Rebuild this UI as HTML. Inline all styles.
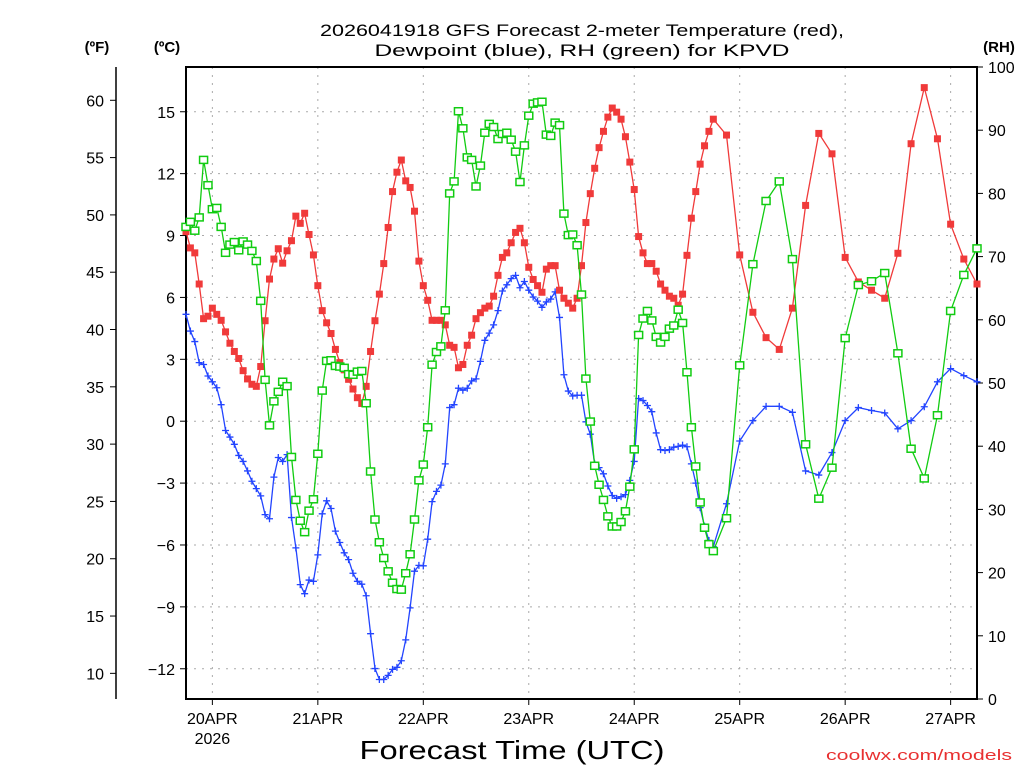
<!DOCTYPE html>
<html><head><meta charset="utf-8"><style>
html,body{margin:0;padding:0;background:#fff;width:1024px;height:768px;overflow:hidden}
svg{display:block}
text{font-family:"Liberation Sans",sans-serif}
</style></head><body>
<svg id="chart" width="1024" height="768" viewBox="0 0 1024 768" xmlns="http://www.w3.org/2000/svg">
<text x="582" y="36" font-size="17" text-anchor="middle" textLength="524" lengthAdjust="spacingAndGlyphs">2026041918 GFS Forecast 2-meter Temperature (red),</text>
<text x="582" y="56" font-size="17" text-anchor="middle" textLength="415" lengthAdjust="spacingAndGlyphs">Dewpoint (blue), RH (green) for KPVD</text>
<text x="97" y="52" font-size="15" font-weight="bold" text-anchor="middle">(ºF)</text>
<text x="167" y="52" font-size="15" font-weight="bold" text-anchor="middle">(ºC)</text>
<text x="999" y="52" font-size="15" font-weight="bold" text-anchor="middle">(RH)</text>
<text x="512" y="759" font-size="26" text-anchor="middle" textLength="305" lengthAdjust="spacingAndGlyphs">Forecast Time (UTC)</text>
<text x="1012" y="760" font-size="15" fill="#e83030" text-anchor="end" textLength="186" lengthAdjust="spacingAndGlyphs">coolwx.com/models</text>
<g id="grid"></g><g id="axes"></g><g id="series"></g>
</svg>
<script>
// hours since 2026-04-19 18Z
const hours = [];
for (let h = 0; h <= 120; h++) hours.push(h);
for (let h = 123; h <= 180; h += 3) hours.push(h);

const tempC = [9.19,8.40,8.16,6.65,4.97,5.09,5.48,5.18,4.89,4.33,3.78,3.38,3.04,2.45,2.05,1.79,1.69,2.65,4.87,6.89,
7.86,8.36,7.66,8.26,8.75,9.94,9.59,10.08,9.05,8.06,6.57,5.36,4.77,4.25,3.48,2.84,2.49,2.03,1.56,1.14,
0.86,1.69,3.38,4.87,6.16,7.64,9.39,11.13,12.07,12.66,11.65,11.33,10.18,7.76,6.57,5.86,4.89,4.89,4.89,4.67,
3.68,3.58,2.59,2.75,3.68,4.17,4.97,5.26,5.48,5.58,6.06,7.07,7.94,8.16,8.65,9.15,9.35,8.65,7.46,6.87,
6.57,6.25,7.37,7.54,7.54,6.35,5.96,5.72,5.48,5.96,7.54,9.63,11.03,12.26,13.26,14.05,14.74,15.18,14.98,14.64,
13.79,12.56,11.23,8.95,8.16,7.64,7.64,7.27,6.65,6.35,6.06,5.96,5.62,6.16,8.04,9.84,11.13,12.46,13.35,14.05,
14.64,13.87,8.06,5.28,4.05,3.48,5.48,10.46,13.95,12.96,7.94,6.75,6.35,5.96,8.14,13.45,16.17,13.69,9.55,7.86,6.65];

const dewC = [5.18,4.37,3.86,2.84,2.75,2.19,1.91,1.62,0.80,-0.45,-0.77,-1.12,-1.66,-1.95,-2.41,-2.91,-3.27,-3.62,-4.53,-4.73,
-2.71,-1.76,-1.95,-1.62,-4.67,-6.14,-7.92,-8.36,-7.70,-7.76,-6.48,-4.49,-3.86,-4.23,-5.33,-5.88,-6.38,-6.71,-7.37,-7.76,
-7.90,-8.46,-10.30,-11.99,-12.52,-12.52,-12.32,-12.03,-11.93,-11.61,-10.60,-9.05,-7.27,-6.99,-7.01,-5.72,-3.90,-3.40,-3.10,-2.07,
0.66,0.80,1.60,1.50,1.60,1.95,2.05,2.90,3.92,4.27,4.67,5.36,6.31,6.61,6.91,7.07,6.47,6.77,6.35,6.02,
5.82,5.52,5.78,5.92,6.27,5.03,2.25,1.46,1.22,1.26,1.26,-0.03,-0.63,-2.07,-2.25,-2.55,-3.14,-3.60,-3.74,-3.66,
-3.56,-2.87,-1.95,1.10,1.00,0.76,0.46,-0.57,-1.38,-1.42,-1.38,-1.26,-1.22,-1.16,-1.24,-2.07,-3.00,-4.19,-5.09,-5.78,
-6.08,-4.00,-0.96,0.03,0.72,0.72,0.43,-2.41,-2.61,-1.52,0.03,0.66,0.52,0.40,-0.37,0.03,0.70,1.91,2.55,2.21,1.91];

const rhPct = [74.7,75.5,74.1,76.2,85.3,81.3,77.5,77.7,74.7,70.6,71.9,72.3,71.0,72.4,71.9,70.9,69.3,63.0,50.5,43.3,
47.1,48.6,50.2,49.5,38.3,31.5,28.2,26.4,29.8,31.6,38.8,48.8,53.5,53.6,52.7,52.6,52.4,51.4,51.3,51.8,
51.9,46.8,36.0,28.4,24.8,22.3,20.2,18.4,17.4,17.3,19.9,22.9,28.4,34.6,37.1,43.0,52.9,54.9,55.8,61.5,
80.0,81.9,93.0,90.3,85.7,85.3,81.1,84.4,89.6,91.0,90.5,88.6,89.4,89.6,88.5,86.6,81.8,87.6,92.3,94.2,
94.4,94.5,89.3,89.1,91.2,90.8,76.8,73.4,73.5,71.8,64.0,50.7,43.9,36.9,33.9,31.5,28.9,27.3,27.3,28.0,
29.7,33.6,39.5,57.6,60.2,61.4,59.9,57.3,56.4,57.3,58.6,59.1,61.6,59.5,51.7,43.0,36.8,31.1,27.1,24.5,
23.4,28.6,52.8,68.8,78.8,81.9,69.6,40.3,31.7,36.6,57.1,65.5,66.1,67.4,54.7,39.6,34.9,44.9,61.4,67.1,71.3];

const dayLabels = ["20APR","21APR","22APR","23APR","24APR","25APR","26APR","27APR"];
const dayHours = [6,30,54,78,102,126,150,174];
const cTicks = [-12,-9,-6,-3,0,3,6,9,12,15];
const fTicks = [10,15,20,25,30,35,40,45,50,55,60];
const rhTicks = [0,10,20,30,40,50,60,70,80,90,100];

const L=186, R=977, T=67, B=699;
const xS = h => L + h*(R-L)/180;
const yC = c => 421.2 - c*20.63;
const yF = f => yC((f-32)*5/9);
const yRH = r => B - r*(B-T)/100;
const NS = "http://www.w3.org/2000/svg";
function mk(tag, attrs, parent){const e=document.createElementNS(NS,tag);for(const k in attrs)e.setAttribute(k,attrs[k]);parent.appendChild(e);return e;}
const grid=document.getElementById('grid'), axes=document.getElementById('axes'), ser=document.getElementById('series');

cTicks.forEach(c=>{
  const y=yC(c);
  const g=mk('line',{x1:L,x2:R,y1:y,y2:y,stroke:'#aaa','stroke-width':1,'stroke-dasharray':'2,6'},grid);
  
  
  const t=mk('line',{x1:L-6,x2:L,y1:y,y2:y,stroke:'#000','stroke-width':1},axes);
  
  
  const lb=mk('text',{x:L-11,y:y+6,'font-size':16,'text-anchor':'end'},axes);
  lb.textContent=(c<0?'\u2212'+Math.abs(c):c);
  
  
});
dayHours.forEach((h,i)=>{
  const x=xS(h);
  const g=mk('line',{x1:x,x2:x,y1:T,y2:B,stroke:'#aaa','stroke-width':1,'stroke-dasharray':'2,6'},grid);
  
  
  const t=mk('line',{x1:x,x2:x,y1:B,y2:B+6,stroke:'#000','stroke-width':1},axes);
  
  
  const lb=mk('text',{x:x,y:724,'font-size':16,'text-anchor':'middle'},axes);
  lb.textContent=dayLabels[i];
  
  
});
const yr=mk('text',{x:xS(dayHours[0]),y:744,'font-size':16,'text-anchor':'middle'},axes);
yr.textContent='2026';



const fa=mk('line',{x1:116,x2:116,y1:T,y2:B,stroke:'#000','stroke-width':1.5},axes);


fTicks.forEach(f=>{
  const y=yF(f);
  const t=mk('line',{x1:110,x2:116,y1:y,y2:y,stroke:'#000','stroke-width':1},axes);
  
  
  const lb=mk('text',{x:104,y:y+6,'font-size':16,'text-anchor':'end'},axes);
  lb.textContent=f;
  
  
});
rhTicks.forEach(r=>{
  const y=yRH(r);
  const t=mk('line',{x1:R,x2:R+6,y1:y,y2:y,stroke:'#000','stroke-width':1},axes);
  
  
  const lb=mk('text',{x:988,y:y+6,'font-size':16,'text-anchor':'start'},axes);
  lb.textContent=r;
  
  
});
const fr=mk('rect',{x:L,y:T,width:R-L,height:B-T,fill:'none',stroke:'#000','stroke-width':2},axes);



function series(vals, yf, color, kind, name){
  const g=mk('g',{},ser);
  
  
  const pts=vals.map((v,i)=>xS(hours[i]).toFixed(1)+','+yf(v).toFixed(1)).join(' ');
  const pl=mk('polyline',{points:pts,fill:'none',stroke:color,'stroke-width':1.3},g);
  
  
  vals.forEach((v,i)=>{
    const x=xS(hours[i]), y=yf(v); let m;
    if(kind==='fill') m=mk('rect',{x:x-3.5,y:y-3.5,width:7,height:7,fill:color},g);
    else if(kind==='open') m=mk('rect',{x:x-4,y:y-3.5,width:8,height:7,fill:'#fff',stroke:color,'stroke-width':1.5},g);
    else m=mk('path',{d:`M${x-3.5},${y}H${x+3.5}M${x},${y-3.5}V${y+3.5}`,stroke:color,'stroke-width':1.3,fill:'none'},g);
    
    
  });
}
series(dewC, yC, '#2244ff', 'plus', 'dewpoint');
series(tempC, yC, '#f03a3a', 'fill', 'temperature');
series(rhPct, yRH, '#11cc11', 'open', 'rh');
</script>
</body></html>
